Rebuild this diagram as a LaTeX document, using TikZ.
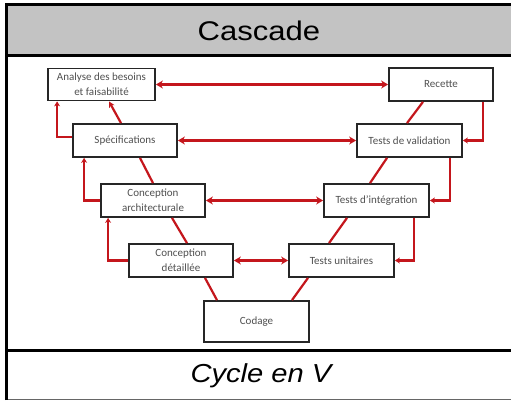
\documentclass[tikz,border=0pt]{standalone}
\usepackage{fontspec}
\setmainfont{Carlito}
\newfontfamily\headfont{Liberation Sans}
\usetikzlibrary{arrows.meta,calc}
\definecolor{vred}{HTML}{C4161C}
\definecolor{hdrgray}{HTML}{C3C3C3}
\definecolor{boxtext}{HTML}{505050}
\tikzset{
  phase/.style={draw=black!85, line width=1.8pt, fill=white, inner sep=0pt,
    font=\fontsize{11}{15}\selectfont, text=boxtext, align=center},
  link/.style={draw=vred, line width=2.2pt},
  both/.style={link, {Stealth[length=7pt,width=8pt]}-{Stealth[length=7pt,width=8pt]}},
  fb/.style={link, -{Stealth[length=5pt,width=6pt]}},
}
\begin{document}
\begin{tikzpicture}[x=1pt,y=-1pt]
\useasboundingbox (0,0) rectangle (511,400);
\clip (0,0) rectangle (511,400);
% frame
\fill[hdrgray] (6,4.5) rectangle (520,55);
\draw[line width=1pt, black!60] (6,399) -- (520,399);
\draw[line width=3pt] (6,400) -- (6,4.5) -- (520,4.5);
\draw[line width=3pt] (6,55) -- (520,55);
\draw[line width=3pt] (6,350) -- (520,350);
\node (title) at (259,31) {\headfont\fontsize{27}{27}\selectfont\scalebox{1.15}[1]{Cascade}};
\node (caption) at (261,376) {\headfont\itshape\fontsize{26}{26}\selectfont\scalebox{1.12}[1]{Cycle en V}};
% boxes
\node[phase, minimum width=107pt, minimum height=32pt] (analyse) at (101.5,84.5) {Analyse des besoins\\et faisabilité};
\node[phase, minimum width=104pt, minimum height=33pt] (spec) at (125,140.5) {Spécifications};
\node[phase, minimum width=104pt, minimum height=33pt] (arch) at (153,200.5) {Conception\\architecturale};
\node[phase, minimum width=104pt, minimum height=33pt] (det) at (181,260.5) {Conception\\détaillée};
\node[phase, minimum width=105pt, minimum height=41pt] (codage) at (256.5,321.5) {Codage};
\node[phase, minimum width=105pt, minimum height=33pt] (unit) at (341.5,260.5) {Tests unitaires};
\node[phase, minimum width=105pt, minimum height=33pt] (integ) at (376.5,200.5) {Tests d’intégration};
\node[phase, minimum width=105pt, minimum height=33pt] (valid) at (409.5,140.5) {Tests de validation};
\node[phase, minimum width=104pt, minimum height=33pt] (recette) at (441,84.5) {Recette};
% horizontal links
\draw[both] (analyse.east) -- (recette.west);
\draw[both] (spec.east) -- (valid.west);
\draw[both] (arch.east) -- (integ.west);
\draw[both] (det.east) -- (unit.west);
% V diagonals
\draw[link, -{Stealth[length=6pt,width=6pt]}] ([xshift=-4pt]spec.north) -- ([xshift=7.5pt]analyse.south);
\draw[link] ([xshift=15pt]spec.south) -- (arch.north);
\draw[link] ([xshift=19pt]arch.south) -- ([xshift=6pt]det.north);
\draw[link] ([xshift=24pt]det.south) -- ([xshift=-39.5pt]codage.north);
\draw[link] ([xshift=35.5pt]codage.north) -- ([xshift=-33.5pt]unit.south);
\draw[link] ([xshift=-12.5pt]unit.north) -- ([xshift=-29.5pt]integ.south);
\draw[link] ([xshift=-6.5pt]integ.north) -- ([xshift=-22.5pt]valid.south);
\draw[link] ([xshift=-2.5pt]valid.north) -- ([xshift=-18pt]recette.south);
% feedback left
\draw[fb] ([yshift=3.5pt]spec.west) -| ([xshift=10pt]analyse.south west);
\draw[fb] (arch.west) -| ([xshift=12pt]spec.south west);
\draw[fb] (det.west) -| ([xshift=8pt]arch.south west);
% feedback right
\draw[fb] ([xshift=-11pt]recette.south east) |- (valid.east);
\draw[fb] ([xshift=-13pt]valid.south east) |- (integ.east);
\draw[fb] ([xshift=-16pt]integ.south east) |- (unit.east);
\end{tikzpicture}
\end{document}
